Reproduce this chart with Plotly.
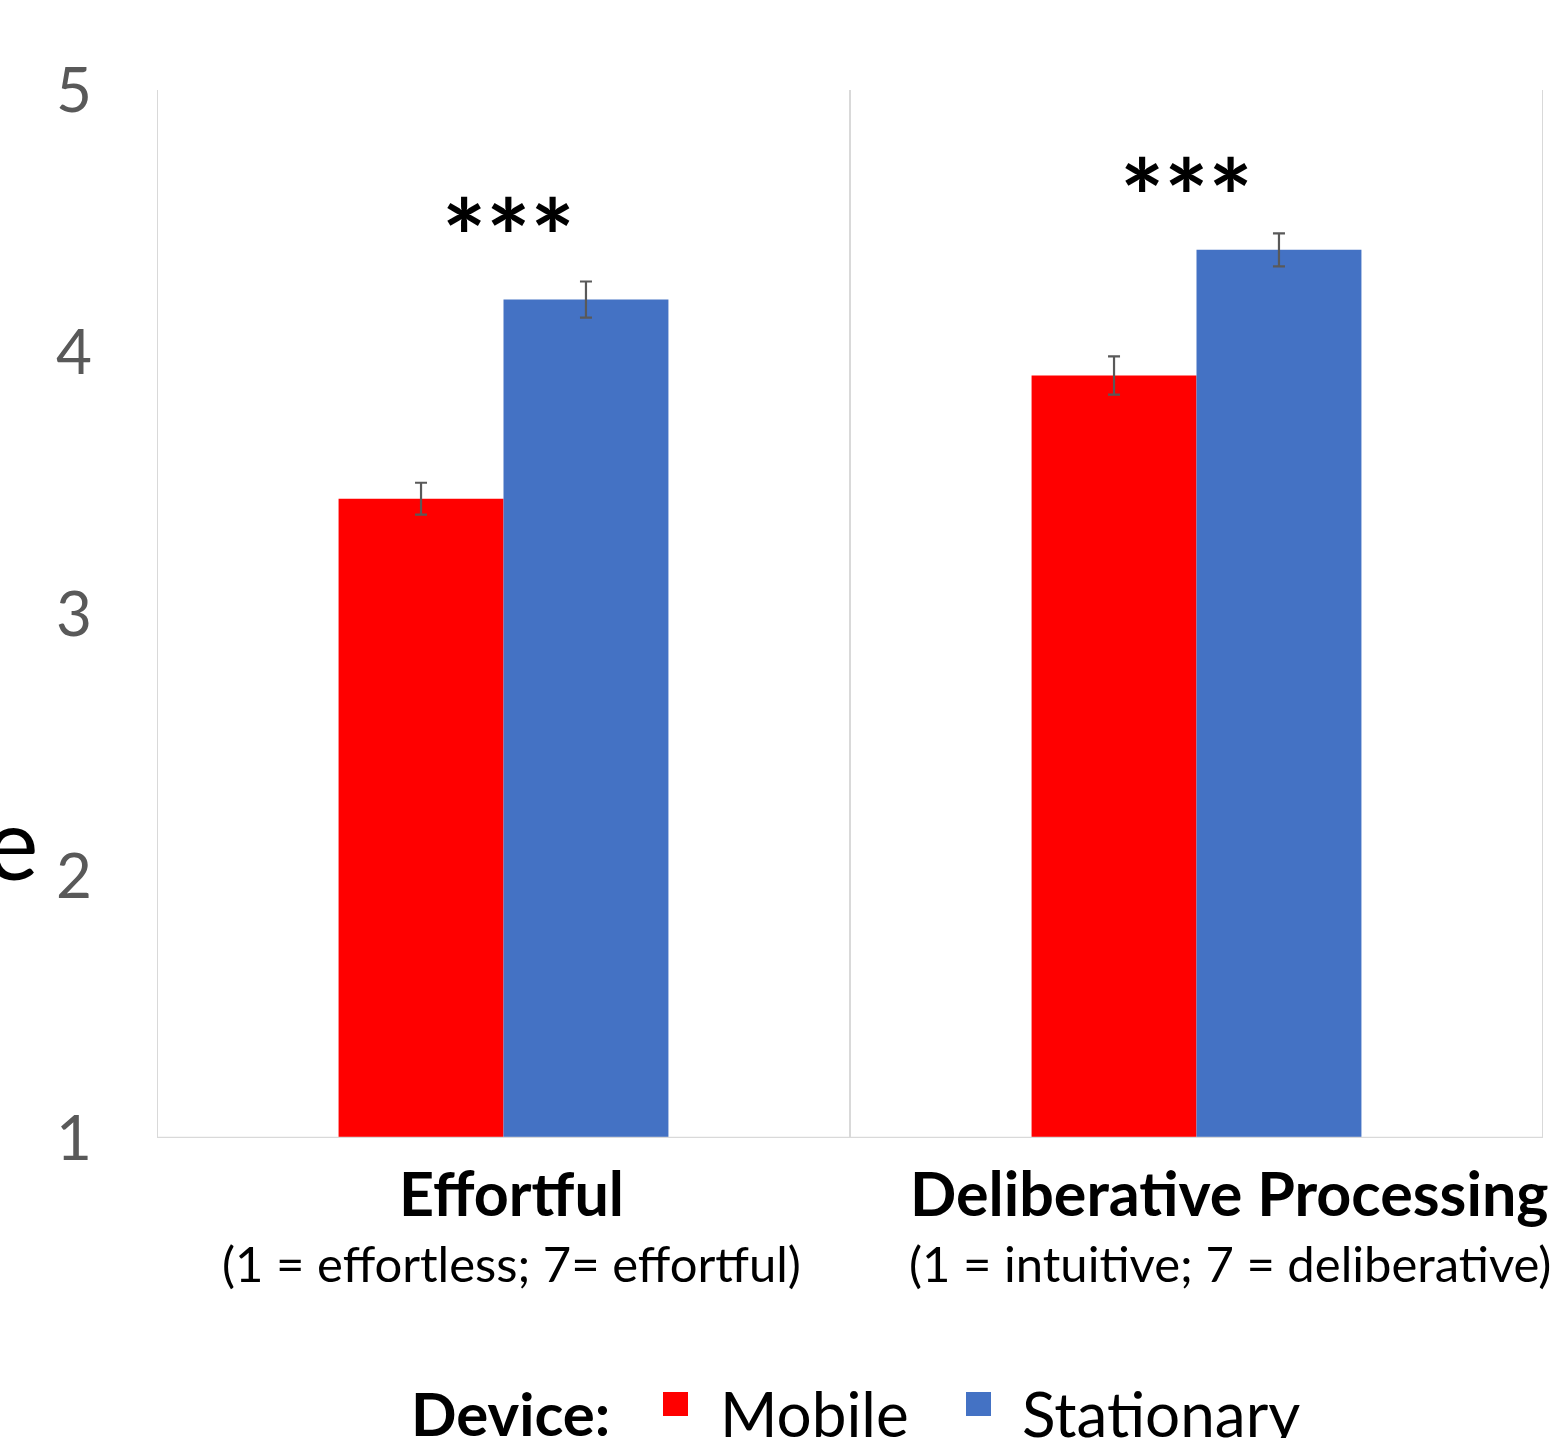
import plotly.graph_objects as go

# Survey measures and device groups
measures = ["Effortful", "Deliberative Processing"]
scale_notes = ["(1 = effortless; 7= effortful)", "(1 = intuitive; 7 = deliberative)"]
devices = ["Mobile", "Stationary"]

mobile_means = [3.44, 3.91]
mobile_se = [0.061, 0.073]
stationary_means = [4.20, 4.39]
stationary_se = [0.069, 0.063]

sig_marks = ["***", "***"]
sig_heights = [4.45, 4.60]
sig_offsets = [0.007, -0.014]

label_offsets = [0.011, 0.048]

y_ticks = [1, 2, 3, 4, 5]

RED = "#FF0000"
BLUE = "#4472C4"
GRID = "#D9D9D9"
ERR = "#595959"
FONT = "Lato"

x_pos = list(range(len(measures)))

fig = go.Figure()
fig.add_trace(go.Bar(
    x=x_pos, y=mobile_means, name=devices[0], marker_color=RED,
    marker_line_width=0,
    error_y=dict(type="data", array=mobile_se, color=ERR, thickness=2.2, width=6),
))
fig.add_trace(go.Bar(
    x=x_pos, y=stationary_means, name=devices[1], marker_color=BLUE,
    marker_line_width=0,
    error_y=dict(type="data", array=stationary_se, color=ERR, thickness=2.2, width=6),
))

# category separators / frame lines
for xv in [-0.5, 0.5, 1.5]:
    fig.add_shape(type="line", xref="x", yref="y", x0=xv, x1=xv, y0=1, y1=5,
                  line=dict(color=GRID, width=2), layer="below")
fig.add_shape(type="line", xref="x", yref="y", x0=-0.5, x1=1.5, y0=1, y1=1,
              line=dict(color=GRID, width=2.5), layer="above")

annotations = []
# category labels
for i, (m, note, off) in enumerate(zip(measures, scale_notes, label_offsets)):
    annotations.append(dict(x=i + off, y=-0.052, xref="x", yref="paper", text=f"<b>{m}</b>",
                            showarrow=False, font=dict(family=FONT, size=61, color="black"),
                            xanchor="center", yanchor="middle"))
    annotations.append(dict(x=i + off, y=-0.119, xref="x", yref="paper", text=note,
                            showarrow=False, font=dict(family=FONT, size=49, color="black"),
                            xanchor="center", yanchor="middle"))
# significance stars
for i, (s, h, off) in enumerate(zip(sig_marks, sig_heights, sig_offsets)):
    annotations.append(dict(x=i + off, y=h, xref="x", yref="y", text=f"<b>{s}</b>",
                            showarrow=False,
                            font=dict(family=FONT, size=104, color="black"),
                            xanchor="center", yanchor="middle"))
# y-axis title (horizontal)
annotations.append(dict(x=-0.084, y=0.283, xref="paper", yref="paper", text="Score",
                        showarrow=False, font=dict(family=FONT, size=100, color="black"),
                        xanchor="right", yanchor="middle"))

# legend row
legend_y = -0.262
annotations.append(dict(x=(612 - 157) / 1386, y=legend_y, xref="paper", yref="paper",
                        text="<b>Device:</b>", showarrow=False,
                        font=dict(family=FONT, size=60, color="black"),
                        xanchor="right", yanchor="middle"))
legend_items = [(devices[0], RED, 663, 718), (devices[1], BLUE, 966, 1020)]
for label, col, sq_x, tx in legend_items:
    x0 = (sq_x - 157) / 1386
    x1 = (sq_x + 25 - 157) / 1386
    fig.add_shape(type="rect", xref="paper", yref="paper", x0=x0, x1=x1,
                  y0=(1138 - 1416) / 1048, y1=(1138 - 1392) / 1048,
                  fillcolor=col, line_width=0)
    annotations.append(dict(x=(tx - 157) / 1386, y=legend_y, xref="paper", yref="paper",
                            text=label, showarrow=False,
                            font=dict(family=FONT, size=62, color="black"),
                            xanchor="left", yanchor="middle"))

fig.update_layout(
    width=1555, height=1438,
    margin=dict(l=157, r=12, t=90, b=300),
    paper_bgcolor="white", plot_bgcolor="white",
    barmode="group", bargap=0.524, bargroupgap=0,
    showlegend=False,
    annotations=annotations,
    xaxis=dict(range=[-0.5, 1.5], showticklabels=False, showgrid=False, zeroline=False,
               showline=False, ticks=""),
    yaxis=dict(range=[1, 5], tickvals=y_ticks, showgrid=False, zeroline=False,
               showline=False, ticks="", ticklabelstandoff=64,
               tickfont=dict(family=FONT, size=62, color="#595959")),
)

fig.write_html("out.html")
